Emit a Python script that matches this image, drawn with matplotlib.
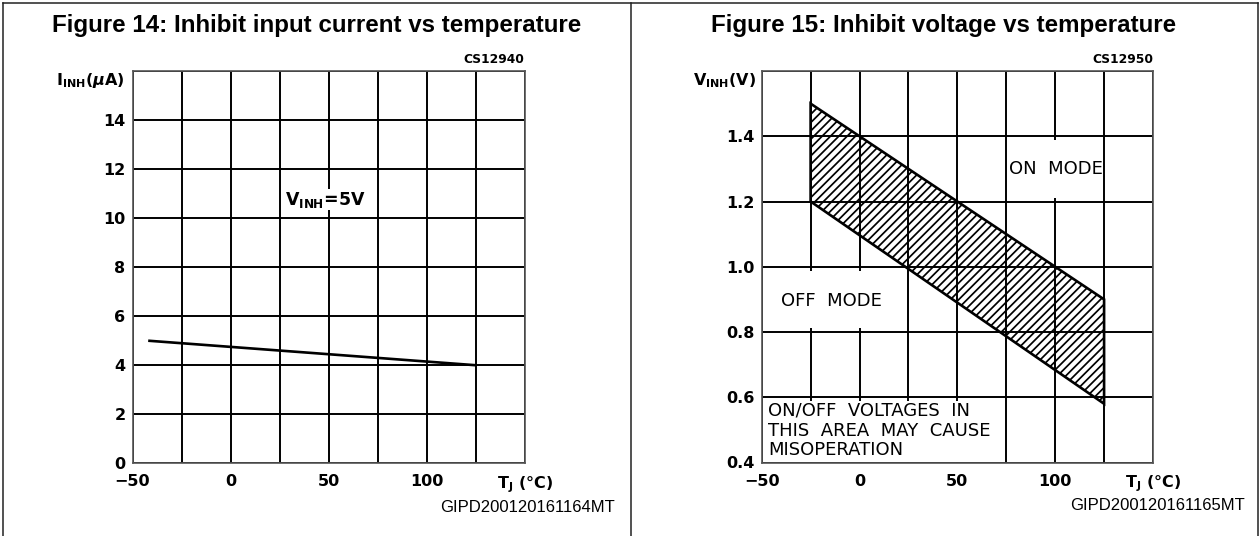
import matplotlib
matplotlib.use("Agg")
import matplotlib.pyplot as plt
from matplotlib.patches import Rectangle
from matplotlib.lines import Line2D

# ---------------- data ----------------
fig14_title = "Figure 14: Inhibit input current vs temperature"
fig15_title = "Figure 15: Inhibit voltage vs temperature"

fig14_temp = [-42, 125]          # T_J (°C)
fig14_current = [5.0, 4.0]       # I_INH (uA)

fig15_temp = [-25, 125]          # T_J (°C)
fig15_upper = [1.5, 0.9]         # V_INH upper limit (V)
fig15_lower = [1.2, 0.58]        # V_INH lower limit (V)

x_ticks = [-50, -25, 0, 25, 50, 75, 100, 125, 150]
x_labels = ["\u221250", "", "0", "", "50", "", "100", "", r"T$_{\mathbf{J}}$ (°C)"]
y14_ticks = [0, 2, 4, 6, 8, 10, 12, 14, 16]
y14_labels = ["0", "2", "4", "6", "8", "10", "12", "14", ""]
y15_ticks = [0.4, 0.6, 0.8, 1.0, 1.2, 1.4, 1.6]
y15_labels = ["0.4", "0.6", "0.8", "1.0", "1.2", "1.4", ""]

# ---------------- style ----------------
plt.rcParams["font.family"] = ["DejaVu Sans"]
plt.rcParams["font.weight"] = "bold"
plt.rcParams["mathtext.fontset"] = "dejavusans"
plt.rcParams["hatch.linewidth"] = 1.25

W, H = 1260, 536
fig = plt.figure(figsize=(W / 100, H / 100), dpi=100)


def fx(px):
    return px / W


def fy(py):
    return 1 - py / H


def style_axes(ax, yt, yl):
    ax.set_xlim(-50, 150)
    ax.set_xticks(x_ticks)
    ax.set_xticklabels(x_labels)
    ax.set_yticks(yt)
    ax.set_yticklabels(yl)
    ax.set_ylim(yt[0], yt[-1])
    ax.grid(True, color="black", linewidth=1.4)
    ax.set_axisbelow(True)
    for s in ax.spines.values():
        s.set_color("#555555")
        s.set_linewidth(1.2)
    ax.tick_params(axis="both", length=0, labelsize=11.5)
    ax.tick_params(axis="x", pad=8)
    ax.tick_params(axis="y", pad=5)
    for t in ax.get_xticklabels() + ax.get_yticklabels():
        t.set_fontweight("bold")


# ---------------- Figure 14 ----------------
ax1 = fig.add_axes([fx(132.5), fy(463.3), fx(524.7) - fx(132.5), fy(71) - fy(463.3)])
style_axes(ax1, y14_ticks, y14_labels)
ax1.plot(fig14_temp, fig14_current, color="black", linewidth=1.9, solid_capstyle="butt", zorder=3)
ax1.text(27.8, 10.75, r"V$_{\mathbf{INH}}$=5V", fontsize=12.5, fontweight="bold",
         ha="left", va="center", zorder=4,
         bbox=dict(facecolor="white", edgecolor="none", pad=0.3))
ax1.text(1.0, 1.012, "CS12940", transform=ax1.transAxes, ha="right", va="bottom",
         fontsize=8.8, fontweight="bold")
ax1.text(-0.019, 0.975, r"I$_{\mathbf{INH}}$($\mu$A)", transform=ax1.transAxes,
         ha="right", va="center", fontsize=11.5, fontweight="bold")

# ---------------- Figure 15 ----------------
ax2 = fig.add_axes([fx(761.7), fy(462.5), fx(1153) - fx(761.7), fy(71) - fy(462.5)])
style_axes(ax2, y15_ticks, y15_labels)
poly_x = fig15_temp + fig15_temp[::-1]
poly_y = fig15_upper + fig15_lower[::-1]
ax2.fill(poly_x, poly_y, facecolor="none", edgecolor="black", hatch="////",
         linewidth=1.9, zorder=3)

# white label areas hiding the grid
ax2.add_patch(Rectangle((76.2, 1.212), 47.6, 0.176, facecolor="white", edgecolor="none", zorder=1))
ax2.add_patch(Rectangle((-49.5, 0.812), 73.3, 0.176, facecolor="white", edgecolor="none", zorder=1))
ax2.add_patch(Rectangle((-49.5, 0.402), 123.3, 0.186, facecolor="white", edgecolor="none", zorder=1))

ax2.text(76.5, 1.3, "ON  MODE", fontsize=13, fontweight="normal", ha="left", va="center", zorder=4)
ax2.text(-40, 0.895, "OFF  MODE", fontsize=13, fontweight="normal", ha="left", va="center", zorder=4)
ax2.text(-46.6, 0.559, "ON/OFF  VOLTAGES  IN", fontsize=13, fontweight="normal",
         ha="left", va="center", zorder=4)
ax2.text(-46.6, 0.497, "THIS  AREA  MAY  CAUSE", fontsize=13, fontweight="normal",
         ha="left", va="center", zorder=4)
ax2.text(-46.6, 0.437, "MISOPERATION", fontsize=13, fontweight="normal",
         ha="left", va="center", zorder=4)
ax2.text(1.0, 1.012, "CS12950", transform=ax2.transAxes, ha="right", va="bottom",
         fontsize=8.8, fontweight="bold")
ax2.text(-0.015, 0.975, r"V$_{\mathbf{INH}}$(V)", transform=ax2.transAxes,
         ha="right", va="center", fontsize=11.5, fontweight="bold")

# ---------------- titles, codes, frame ----------------
fig.text(fx(317), fy(31.7), fig14_title, ha="center", va="baseline",
         fontsize=17.4, fontweight="bold", family="Liberation Sans")
fig.text(fx(944), fy(31.7), fig15_title, ha="center", va="baseline",
         fontsize=17.4, fontweight="bold", family="Liberation Sans")
fig.text(fx(615), fy(511.7), "GIPD200120161164MT", ha="right", va="baseline",
         fontsize=12, fontweight="normal", family="Liberation Sans")
fig.text(fx(1245), fy(510.5), "GIPD200120161165MT", ha="right", va="baseline",
         fontsize=12, fontweight="normal", family="Liberation Sans")

frame_kw = dict(color="#222222", linewidth=1.1, transform=fig.transFigure)
fig.add_artist(Line2D([fx(2.5), fx(1257.5)], [fy(2.5), fy(2.5)], **frame_kw))
fig.add_artist(Line2D([fx(2.5), fx(2.5)], [fy(2.5), 0], **frame_kw))
fig.add_artist(Line2D([fx(631), fx(631)], [fy(2.5), 0], **frame_kw))
fig.add_artist(Line2D([fx(1257.5), fx(1257.5)], [fy(2.5), 0], **frame_kw))

fig.savefig("out.png", dpi=100)
